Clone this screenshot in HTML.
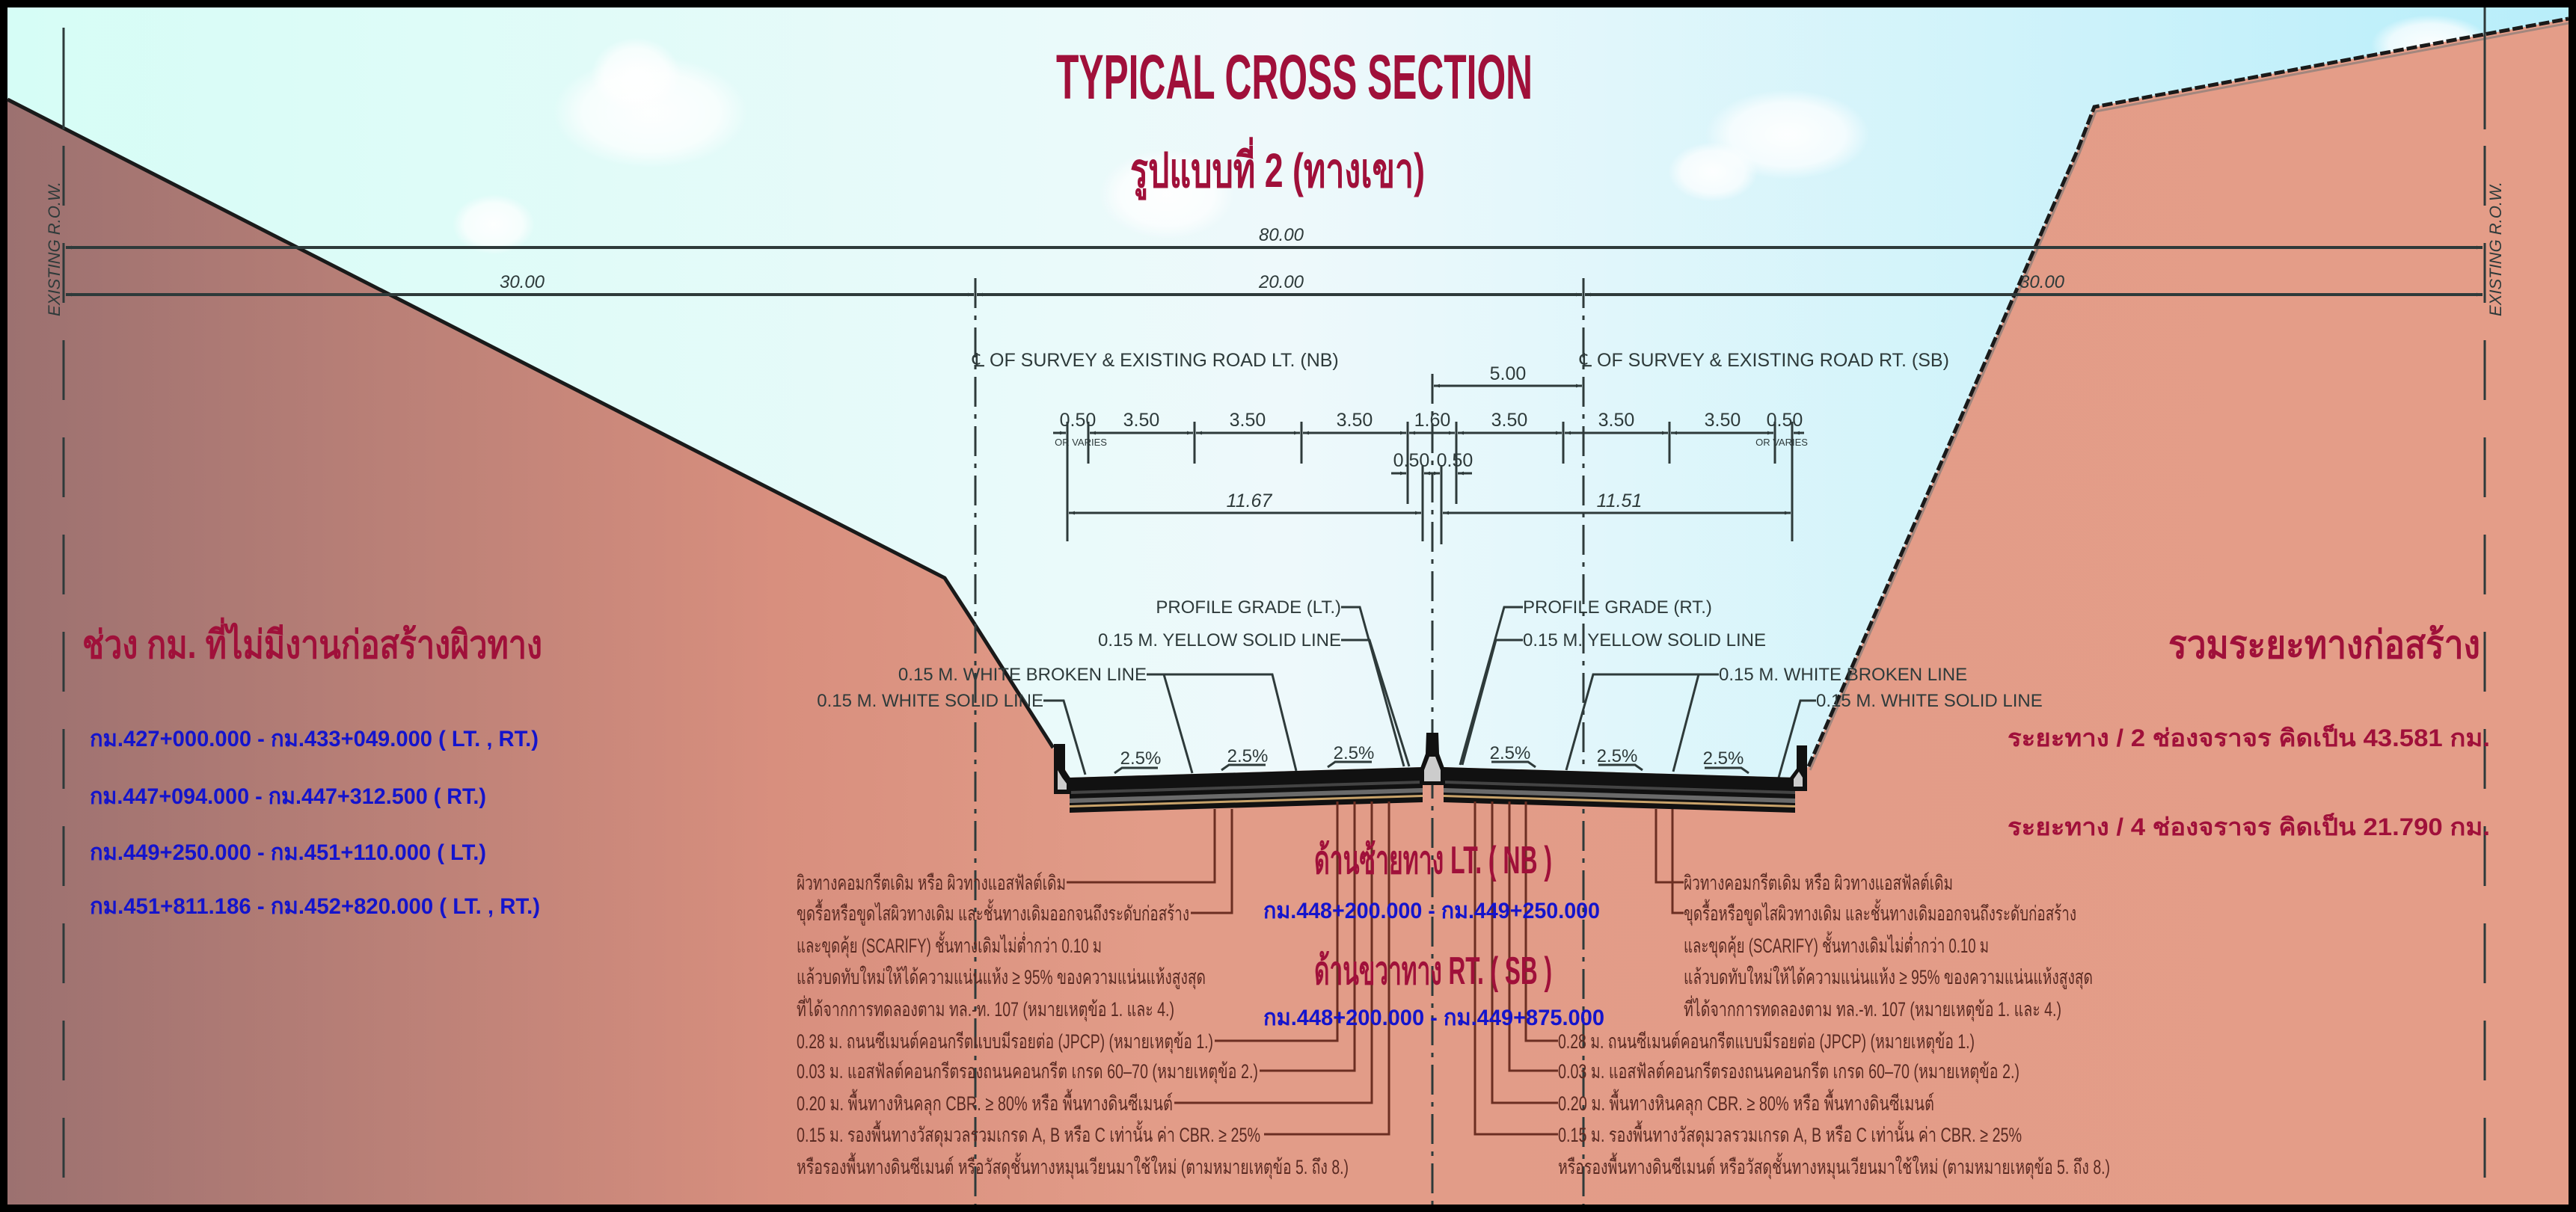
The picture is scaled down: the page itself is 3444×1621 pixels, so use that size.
<!DOCTYPE html>
<html><head><meta charset="utf-8"><style>
html,body{margin:0;padding:0;background:#000}
svg{display:block}
.cad{font-family:"Liberation Sans Narrow","Liberation Sans",sans-serif;fill:#2e3a3a}
.th{font-family:"Liberation Sans Narrow","Liberation Sans","DejaVu Sans",sans-serif}
.note{font-family:"Liberation Sans Narrow","Liberation Sans","DejaVu Sans",sans-serif;fill:#5a2a22;font-size:27px}
</style></head><body>
<svg width="3444" height="1621" viewBox="0 0 3444 1621" xmlns="http://www.w3.org/2000/svg">
<defs>
<linearGradient id="sky" x1="0" x2="1" y1="0" y2="0">
<stop offset="0" stop-color="#d6fdf6"/><stop offset="0.5" stop-color="#eef9fb"/><stop offset="1" stop-color="#b8eefa"/></linearGradient>
<linearGradient id="dirt" x1="0" x2="1" y1="0" y2="0">
<stop offset="0" stop-color="#9c7170"/><stop offset="0.3" stop-color="#d88f7e"/><stop offset="0.45" stop-color="#e29c88"/><stop offset="1" stop-color="#e49d88"/></linearGradient>
<radialGradient id="cl"><stop offset="0" stop-color="#fff" stop-opacity="0.95"/><stop offset="0.7" stop-color="#fff" stop-opacity="0.7"/><stop offset="1" stop-color="#fff" stop-opacity="0"/></radialGradient>
<marker id="a" viewBox="0 0 10 10" refX="10" refY="5" markerWidth="8" markerHeight="8" orient="auto-start-reverse" markerUnits="userSpaceOnUse"><path d="M0,2 L10,5 L0,8z" fill="#2e3a3a"/></marker>
</defs>
<rect width="3444" height="1621" fill="#000"/>
<rect x="10" y="10" width="3424" height="1601" fill="url(#sky)"/>
<g fill="url(#cl)">
<ellipse cx="870" cy="150" rx="130" ry="75"/><ellipse cx="850" cy="100" rx="60" ry="50"/>
<ellipse cx="660" cy="300" rx="55" ry="40"/>
<ellipse cx="2390" cy="180" rx="110" ry="60"/><ellipse cx="2290" cy="230" rx="60" ry="40"/>
<ellipse cx="1560" cy="260" rx="90" ry="60"/><ellipse cx="3250" cy="60" rx="80" ry="40"/>
</g>
<path d="M10,133 L1263,773 L1300,830 L1408,1000 L1430,1040 L1902,1026 L1930,1026 L2400,1040 L2418,1025 L2778,200 L2800,143 L3434,25 L3434,1611 L10,1611Z" fill="url(#dirt)"/>
<path d="M10,133 L1263,773 L1300,830 L1408,1000" fill="none" stroke="#1a1a1a" stroke-width="5"/>
<path d="M2418,1025 L2778,200 L2800,143 L3434,25" fill="none" stroke="#1a1a1a" stroke-width="5" stroke-dasharray="14 4"/>
<path d="M2420,1030 L2780,205 L2802,149 L3434,31" fill="none" stroke="#777" stroke-width="3" opacity="0.6"/>

<g stroke="#2e3a3a" stroke-width="3" fill="none">
<line x1="85" y1="37" x2="85" y2="173"/>
<line x1="85" y1="195" x2="85" y2="1611" stroke-dasharray="80 50"/>
<line x1="3322" y1="10" x2="3322" y2="173"/>
<line x1="3322" y1="195" x2="3322" y2="1611" stroke-dasharray="80 50"/>
<line x1="1304" y1="372" x2="1304" y2="1611" stroke-dasharray="40 10 6 10"/>
<line x1="2117" y1="372" x2="2117" y2="1611" stroke-dasharray="40 10 6 10"/>
<line x1="1915" y1="500" x2="1915" y2="1611" stroke-dasharray="40 10 6 10"/>
</g>
<text class="cad" font-size="22" font-style="italic" transform="translate(80,423) rotate(-90)">EXISTING  R.O.W.</text>
<text class="cad" font-size="22" font-style="italic" transform="translate(3344,423) rotate(-90)">EXISTING  R.O.W.</text>

<g stroke="#2e3a3a" stroke-width="4" fill="none">
<line x1="88" y1="331" x2="3319" y2="331" marker-start="url(#a)" marker-end="url(#a)"/>
<line x1="88" y1="394" x2="1302" y2="394" marker-start="url(#a)" marker-end="url(#a)"/>
<line x1="1306" y1="394" x2="2115" y2="394" marker-start="url(#a)" marker-end="url(#a)"/>
<line x1="2119" y1="394" x2="3319" y2="394" marker-start="url(#a)" marker-end="url(#a)"/>
</g>
<g class="cad" font-size="24" font-style="italic" text-anchor="middle">
<text x="1713" y="322">80.00</text><text x="698" y="385">30.00</text><text x="1713" y="385">20.00</text><text x="2730" y="385">30.00</text>
</g>
<g class="cad" font-size="25"><text x="1300" y="490">℄  OF  SURVEY  &amp;  EXISTING  ROAD  LT.  (NB)</text>
<text x="2112" y="490">℄  OF  SURVEY  &amp;  EXISTING  ROAD  RT.  (SB)</text></g>
<g stroke="#2e3a3a" stroke-width="3" fill="none">
<line x1="1917" y1="516" x2="2115" y2="516" marker-start="url(#a)" marker-end="url(#a)"/>
<line x1="1408" y1="579" x2="1425" y2="579" marker-end="url(#a)"/>
<line x1="1457" y1="579" x2="1595" y2="579" marker-start="url(#a)" marker-end="url(#a)"/>
<line x1="1599" y1="579" x2="1738" y2="579" marker-start="url(#a)" marker-end="url(#a)"/>
<line x1="1742" y1="579" x2="1880" y2="579" marker-start="url(#a)" marker-end="url(#a)"/>
<line x1="1884" y1="579" x2="1945" y2="579" marker-start="url(#a)" marker-end="url(#a)"/>
<line x1="1949" y1="579" x2="2088" y2="579" marker-start="url(#a)" marker-end="url(#a)"/>
<line x1="2092" y1="579" x2="2230" y2="579" marker-start="url(#a)" marker-end="url(#a)"/>
<line x1="2234" y1="579" x2="2371" y2="579" marker-start="url(#a)" marker-end="url(#a)"/>
<line x1="2412" y1="579" x2="2398" y2="579" marker-end="url(#a)"/>
<line x1="1427" y1="564" x2="1427" y2="724"/><line x1="1455" y1="564" x2="1455" y2="620"/>
<line x1="1597" y1="564" x2="1597" y2="620"/><line x1="1740" y1="564" x2="1740" y2="620"/>
<line x1="1882" y1="564" x2="1882" y2="674"/><line x1="1947" y1="564" x2="1947" y2="674"/>
<line x1="2090" y1="564" x2="2090" y2="620"/><line x1="2232" y1="564" x2="2232" y2="620"/>
<line x1="2373" y1="564" x2="2373" y2="620"/><line x1="2396" y1="564" x2="2396" y2="724"/>
<line x1="1902" y1="622" x2="1902" y2="724"/><line x1="1927" y1="622" x2="1927" y2="728"/>
<line x1="1860" y1="633" x2="1880" y2="633" marker-end="url(#a)"/>
<line x1="1904" y1="633" x2="1925" y2="633" marker-start="url(#a)" marker-end="url(#a)"/>
<line x1="1968" y1="633" x2="1949" y2="633" marker-end="url(#a)"/>
<line x1="1429" y1="686" x2="1900" y2="686" marker-start="url(#a)" marker-end="url(#a)"/>
<line x1="1929" y1="686" x2="2394" y2="686" marker-start="url(#a)" marker-end="url(#a)"/>
</g>
<g class="cad" font-size="25" text-anchor="middle">
<text x="2016" y="508">5.00</text>
<text x="1441" y="570">0.50</text><text x="1526" y="570">3.50</text><text x="1668" y="570">3.50</text><text x="1811" y="570">3.50</text>
<text x="1915" y="570">1.60</text><text x="2018" y="570">3.50</text><text x="2161" y="570">3.50</text><text x="2303" y="570">3.50</text><text x="2386" y="570">0.50</text>
<text x="1887" y="624">0.50</text><text x="1945" y="624">0.50</text>
<text x="1670" y="678" font-style="italic">11.67</text><text x="2165" y="678" font-style="italic">11.51</text>
<text x="1445" y="596" font-size="13">OR VARIES</text><text x="2382" y="596" font-size="13">OR VARIES</text>
</g>

<g stroke="#2e3a3a" stroke-width="3" fill="none">
<polyline points="1793,812 1818,812 1877,1025"/>
<polyline points="1793,856 1831,856 1884,1025"/>
<polyline points="1533,902 1701,902 1733,1031"/><line x1="1556" y1="902" x2="1594" y2="1034"/>
<polyline points="1395,937 1422,937 1451,1036"/>
<polyline points="2036,812 2011,812 1952,1023"/>
<polyline points="2036,856 2000,856 1955,1023"/>
<polyline points="2298,902 2130,902 2094,1030"/><line x1="2271" y1="902" x2="2237" y2="1032"/>
<polyline points="2428,937 2407,937 2378,1040"/>
</g>
<g class="cad" font-size="24">
<text x="1793" y="820" text-anchor="end">PROFILE  GRADE  (LT.)</text>
<text x="1793" y="864" text-anchor="end">0.15  M.  YELLOW  SOLID  LINE</text>
<text x="1533" y="910" text-anchor="end">0.15  M.  WHITE  BROKEN  LINE</text>
<text x="1395" y="945" text-anchor="end">0.15  M.  WHITE  SOLID  LINE</text>
<text x="2036" y="820">PROFILE  GRADE  (RT.)</text>
<text x="2036" y="864">0.15  M.  YELLOW  SOLID  LINE</text>
<text x="2298" y="910">0.15  M.  WHITE  BROKEN  LINE</text>
<text x="2428" y="945">0.15  M.  WHITE  SOLID  LINE</text>
</g>
<g class="cad" font-size="24" text-anchor="middle">
<text x="1525" y="1022">2.5%</text><text x="1668" y="1019">2.5%</text><text x="1810" y="1015">2.5%</text>
<text x="2019" y="1015">2.5%</text><text x="2162" y="1019">2.5%</text><text x="2304" y="1022">2.5%</text>
</g>
<g stroke="#2e3a3a" stroke-width="3" fill="none">
<polyline points="1548,1027 1500,1027 1490,1034"/><polyline points="1692,1023 1643,1023 1633,1030"/><polyline points="1834,1019 1785,1019 1775,1026"/>
<polyline points="1994,1019 2043,1019 2053,1026"/><polyline points="2137,1023 2186,1023 2196,1030"/><polyline points="2279,1027 2328,1027 2338,1034"/>
</g>

<g>
<path d="M1430,1040 L1902,1026 L1902,1073 L1430,1087Z" fill="#111"/>
<path d="M1430,1058 L1902,1044 L1902,1048 L1430,1062Z" fill="#444"/>
<path d="M1430,1068 L1902,1054 L1902,1060 L1430,1074Z" fill="#6a6a6a"/>
<path d="M1430,1077 L1902,1063 L1902,1066 L1430,1080Z" fill="#c9a36a"/>
<path d="M2400,1040 L1930,1026 L1930,1073 L2400,1087Z" fill="#111"/>
<path d="M2400,1058 L1930,1044 L1930,1048 L2400,1062Z" fill="#444"/>
<path d="M2400,1068 L1930,1054 L1930,1060 L2400,1074Z" fill="#6a6a6a"/>
<path d="M2400,1077 L1930,1063 L1930,1066 L2400,1080Z" fill="#c9a36a"/>
<path d="M1409,995 L1424,995 L1424,1030 L1432,1042 L1432,1062 L1409,1062Z" fill="#111"/>
<path d="M1414,1030 L1420,1040 L1426,1048 L1426,1056 L1414,1056Z" fill="#ccc"/>
<path d="M2402,997 L2416,997 L2416,1058 L2393,1058 L2393,1040 L2402,1028Z" fill="#111"/>
<path d="M2398,1042 L2405,1032 L2410,1040 L2410,1052 L2398,1052Z" fill="#ccc"/>
<path d="M1907,980 L1923,980 L1924,1008 L1932,1030 L1932,1050 L1898,1050 L1898,1030 L1906,1008Z" fill="#111"/>
<path d="M1911,1012 L1919,1012 L1926,1030 L1926,1045 L1904,1045 L1904,1030Z" fill="#ccc"/>
</g>

<g stroke="#6b2e22" stroke-width="3" fill="none">
<polyline points="1426,1180 1624,1180 1624,1082"/>
<polyline points="1592,1221 1647,1221 1647,1082"/>
<polyline points="1624,1392 1788,1392 1788,1072"/>
<polyline points="1684,1432 1811,1432 1811,1072"/>
<polyline points="1570,1475 1834,1475 1834,1072"/>
<polyline points="1690,1517 1857,1517 1857,1072"/>
<polyline points="2083,1392 2040,1392 2040,1072"/>
<polyline points="2083,1432 2018,1432 2018,1072"/>
<polyline points="2083,1475 1995,1475 1995,1072"/>
<polyline points="2083,1517 1972,1517 1972,1072"/>
<polyline points="2251,1180 2214,1180 2214,1082"/>
<polyline points="2251,1221 2236,1221 2236,1082"/>
</g>
<g class="note">
<text x="1065" y="1190" textLength="360" lengthAdjust="spacingAndGlyphs">ผิวทางคอมกรีตเดิม หรือ ผิวทางแอสฟัลต์เดิม</text>
<text x="1065" y="1231" textLength="525" lengthAdjust="spacingAndGlyphs">ขุดรื้อหรือขูดไสผิวทางเดิม และชั้นทางเดิมออกจนถึงระดับก่อสร้าง</text>
<text x="1065" y="1274" textLength="408" lengthAdjust="spacingAndGlyphs">และขุดคุ้ย (SCARIFY) ชั้นทางเดิมไม่ต่ำกว่า 0.10 ม</text>
<text x="1065" y="1316" textLength="547" lengthAdjust="spacingAndGlyphs">แล้วบดทับใหม่ให้ได้ความแน่นแห้ง ≥ 95% ของความแน่นแห้งสูงสุด</text>
<text x="1065" y="1359" textLength="505" lengthAdjust="spacingAndGlyphs">ที่ได้จากการทดลองตาม ทล.-ท. 107 (หมายเหตุข้อ 1. และ 4.)</text>
<text x="1065" y="1402" textLength="557" lengthAdjust="spacingAndGlyphs">0.28 ม. ถนนซีเมนต์คอนกรีตแบบมีรอยต่อ (JPCP) (หมายเหตุข้อ 1.)</text>
<text x="1065" y="1442" textLength="617" lengthAdjust="spacingAndGlyphs">0.03 ม. แอสฟัลต์คอนกรีตรองถนนคอนกรีต เกรด 60–70 (หมายเหตุข้อ 2.)</text>
<text x="1065" y="1485" textLength="503" lengthAdjust="spacingAndGlyphs">0.20 ม. พื้นทางหินคลุก CBR. ≥ 80% หรือ พื้นทางดินซีเมนต์</text>
<text x="1065" y="1527" textLength="620" lengthAdjust="spacingAndGlyphs">0.15 ม. รองพื้นทางวัสดุมวลรวมเกรด A, B หรือ C เท่านั้น ค่า CBR. ≥ 25%</text>
<text x="1065" y="1570" textLength="738" lengthAdjust="spacingAndGlyphs">หรือรองพื้นทางดินซีเมนต์ หรือวัสดุชั้นทางหมุนเวียนมาใช้ใหม่ (ตามหมายเหตุข้อ 5. ถึง 8.)</text>

<text x="2251" y="1190" textLength="360" lengthAdjust="spacingAndGlyphs">ผิวทางคอมกรีตเดิม หรือ ผิวทางแอสฟัลต์เดิม</text>
<text x="2251" y="1231" textLength="525" lengthAdjust="spacingAndGlyphs">ขุดรื้อหรือขูดไสผิวทางเดิม และชั้นทางเดิมออกจนถึงระดับก่อสร้าง</text>
<text x="2251" y="1274" textLength="408" lengthAdjust="spacingAndGlyphs">และขุดคุ้ย (SCARIFY) ชั้นทางเดิมไม่ต่ำกว่า 0.10 ม</text>
<text x="2251" y="1316" textLength="547" lengthAdjust="spacingAndGlyphs">แล้วบดทับใหม่ให้ได้ความแน่นแห้ง ≥ 95% ของความแน่นแห้งสูงสุด</text>
<text x="2251" y="1359" textLength="505" lengthAdjust="spacingAndGlyphs">ที่ได้จากการทดลองตาม ทล.-ท. 107 (หมายเหตุข้อ 1. และ 4.)</text>
<text x="2083" y="1402" textLength="557" lengthAdjust="spacingAndGlyphs">0.28 ม. ถนนซีเมนต์คอนกรีตแบบมีรอยต่อ (JPCP) (หมายเหตุข้อ 1.)</text>
<text x="2083" y="1442" textLength="617" lengthAdjust="spacingAndGlyphs">0.03 ม. แอสฟัลต์คอนกรีตรองถนนคอนกรีต เกรด 60–70 (หมายเหตุข้อ 2.)</text>
<text x="2083" y="1485" textLength="503" lengthAdjust="spacingAndGlyphs">0.20 ม. พื้นทางหินคลุก CBR. ≥ 80% หรือ พื้นทางดินซีเมนต์</text>
<text x="2083" y="1527" textLength="620" lengthAdjust="spacingAndGlyphs">0.15 ม. รองพื้นทางวัสดุมวลรวมเกรด A, B หรือ C เท่านั้น ค่า CBR. ≥ 25%</text>
<text x="2083" y="1570" textLength="738" lengthAdjust="spacingAndGlyphs">หรือรองพื้นทางดินซีเมนต์ หรือวัสดุชั้นทางหมุนเวียนมาใช้ใหม่ (ตามหมายเหตุข้อ 5. ถึง 8.)</text>
</g>

<g class="th" font-weight="bold" fill="#a0103a">
<text x="1412" y="132" font-size="84" textLength="637" lengthAdjust="spacingAndGlyphs">TYPICAL  CROSS  SECTION</text>
<text x="1511" y="250" font-size="64" textLength="394" lengthAdjust="spacingAndGlyphs">รูปแบบที่ 2 (ทางเขา)</text>
<text x="110" y="880" font-size="52" textLength="615" lengthAdjust="spacingAndGlyphs">ช่วง กม. ที่ไม่มีงานก่อสร้างผิวทาง</text>
<text x="2899" y="880" font-size="52" textLength="417" lengthAdjust="spacingAndGlyphs">รวมระยะทางก่อสร้าง</text>
<text x="1757" y="1168" font-size="52" textLength="318" lengthAdjust="spacingAndGlyphs">ด้านซ้ายทาง LT. ( NB )</text>
<text x="1757" y="1316" font-size="52" textLength="318" lengthAdjust="spacingAndGlyphs">ด้านขวาทาง RT. ( SB )</text>
</g>
<g class="th" font-weight="bold" fill="#1414cc" font-size="30">
<text x="1689" y="1228" textLength="450" lengthAdjust="spacingAndGlyphs">กม.448+200.000  -  กม.449+250.000</text>
<text x="1689" y="1371" textLength="456" lengthAdjust="spacingAndGlyphs">กม.448+200.000  -  กม.449+875.000</text>
<text x="120" y="998" textLength="600" lengthAdjust="spacingAndGlyphs">กม.427+000.000    -    กม.433+049.000 ( LT. , RT.)</text>
<text x="120" y="1075" textLength="530" lengthAdjust="spacingAndGlyphs">กม.447+094.000    -    กม.447+312.500 ( RT.)</text>
<text x="120" y="1150" textLength="530" lengthAdjust="spacingAndGlyphs">กม.449+250.000    -    กม.451+110.000 ( LT.)</text>
<text x="120" y="1222" textLength="602" lengthAdjust="spacingAndGlyphs">กม.451+811.186    -    กม.452+820.000 ( LT. , RT.)</text>
</g>
<g class="th" font-weight="bold" fill="#a0103a" font-size="32">
<text x="2684" y="998" textLength="645" lengthAdjust="spacingAndGlyphs">ระยะทาง / 2 ช่องจราจร  คิดเป็น  43.581 กม.</text>
<text x="2684" y="1117" textLength="645" lengthAdjust="spacingAndGlyphs">ระยะทาง / 4 ช่องจราจร  คิดเป็น  21.790 กม.</text>
</g>
</svg>
</body></html>
